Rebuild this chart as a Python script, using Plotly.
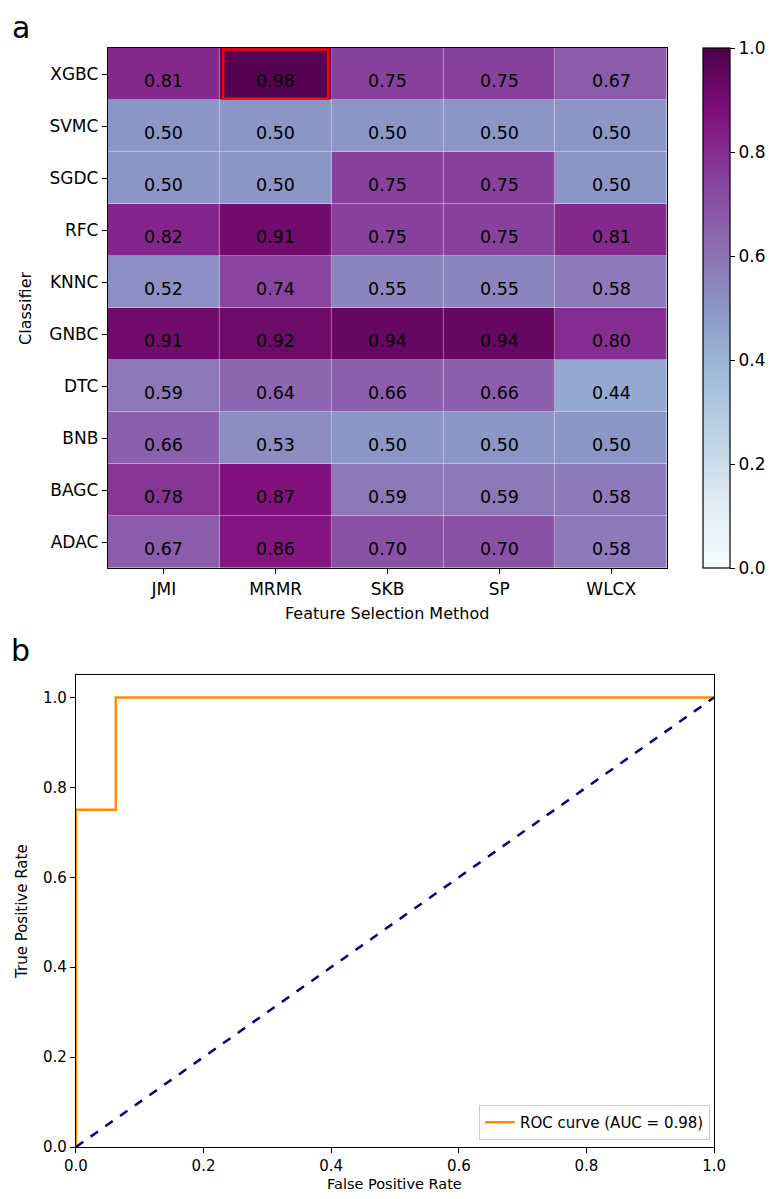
import plotly.graph_objects as go

methods = ["JMI", "MRMR", "SKB", "SP", "WLCX"]
classifiers = ["XGBC", "SVMC", "SGDC", "RFC", "KNNC", "GNBC", "DTC", "BNB", "BAGC", "ADAC"]
xgbc = [0.81, 0.98, 0.75, 0.75, 0.67]
svmc = [0.50, 0.50, 0.50, 0.50, 0.50]
sgdc = [0.50, 0.50, 0.75, 0.75, 0.50]
rfc = [0.82, 0.91, 0.75, 0.75, 0.81]
knnc = [0.52, 0.74, 0.55, 0.55, 0.58]
gnbc = [0.91, 0.92, 0.94, 0.94, 0.80]
dtc = [0.59, 0.64, 0.66, 0.66, 0.44]
bnb = [0.66, 0.53, 0.50, 0.50, 0.50]
bagc = [0.78, 0.87, 0.59, 0.59, 0.58]
adac = [0.67, 0.86, 0.70, 0.70, 0.58]
z = [xgbc, svmc, sgdc, rfc, knnc, gnbc, dtc, bnb, bagc, adac]

fpr = [0.0, 0.0, 0.0625, 0.0625, 1.0]
tpr = [0.0, 0.75, 0.75, 1.0, 1.0]
diag_x = [0.0, 1.0]
diag_y = [0.0, 1.0]
auc = 0.98
ticks01 = [0, 0.2, 0.4, 0.6, 0.8, 1.0]
ticks01_text = ["0.0", "0.2", "0.4", "0.6", "0.8", "1.0"]

# the page body has an 8px margin, so the figure is 16px smaller than the window
OFF = 8
W, H = 774 - 2 * OFF, 1199 - 2 * OFF
def fx(x):
    return (x - OFF) / W
def fy(y):
    return 1 - (y - OFF) / H
def px(x0, x1):
    return [fx(x0), fx(x1)]
def py(y0, y1):
    return [fy(y1), fy(y0)]

FONT = "DejaVu Sans"
fig = go.Figure()

fig.add_trace(go.Heatmap(
    z=z, x=methods, y=classifiers, zmin=0, zmax=1, colorscale="BuPu",
    xgap=0.4, ygap=0.4,
    xaxis="x", yaxis="y", hoverinfo="skip",
    colorbar=dict(x=fx(703), xanchor="left", y=fy(308), yanchor="middle",
                  len=520 / H, lenmode="fraction", thickness=27, xpad=0, ypad=0,
                  outlinecolor="black", outlinewidth=1.2,
                  tickvals=ticks01, ticktext=ticks01_text,
                  ticks="outside", ticklen=5, tickcolor="black",
                  tickfont=dict(size=17, family=FONT, color="black")),
))

for i, cls in enumerate(classifiers):
    for j, m in enumerate(methods):
        fig.add_annotation(x=m, y=cls, xref="x", yref="y", text=f"{z[i][j]:.2f}", showarrow=False,
                           yshift=-7, font=dict(size=17.5, color="black", family=FONT))

fig.add_trace(go.Scatter(x=fpr, y=tpr, mode="lines", line=dict(color="darkorange", width=2.5),
                         name=f"ROC curve (AUC = {auc:.2f})", xaxis="x2", yaxis="y2"))
fig.add_trace(go.Scatter(x=diag_x, y=diag_y, mode="lines", line=dict(color="navy", width=2.5, dash="dash"),
                         showlegend=False, xaxis="x2", yaxis="y2"))

axis_common = dict(showline=True, mirror=True, linecolor="black", linewidth=1.2, automargin=False,
                   ticks="outside", ticklen=5, tickcolor="black", showgrid=False, zeroline=False)

fig.update_layout(
    width=W, height=H, margin=dict(l=0, r=0, t=0, b=0),
    paper_bgcolor="white", plot_bgcolor="white",
    font=dict(family=FONT, color="black"),
    xaxis=dict(domain=px(108, 668), anchor="y", tickfont=dict(size=17), **axis_common),
    yaxis=dict(domain=py(48, 568), anchor="x", autorange="reversed", tickfont=dict(size=17), **axis_common),
    xaxis2=dict(domain=px(76, 715), anchor="y2", range=[0, 1], tickvals=ticks01,
                ticktext=ticks01_text, tickfont=dict(size=15), **axis_common),
    yaxis2=dict(domain=py(675, 1147), anchor="x2", range=[0, 1.05], tickvals=ticks01,
                ticktext=ticks01_text, tickfont=dict(size=15), **axis_common),
    legend=dict(x=fx(710), y=fy(1140), xref="paper", yref="paper", xanchor="right", yanchor="bottom",
                bgcolor="white", bordercolor="#cccccc", borderwidth=1, font=dict(size=15),
                itemwidth=30),
    showlegend=True,
)

fig.add_shape(type="rect", xref="x", yref="y", x0=0.53, x1=1.47, y0=-0.47, y1=0.47,
              line=dict(color="red", width=2.5), fillcolor="rgba(0,0,0,0)")

def label(text, x, y, size, angle=0):
    fig.add_annotation(text=text, x=fx(x), y=fy(y), xref="paper", yref="paper", showarrow=False,
                       xanchor="center", yanchor="middle", textangle=angle,
                       font=dict(size=size, family=FONT, color="black"))

label("Feature Selection Method", 388, 613, 16)
label("Classifier", 25, 308, 16, -90)
label("False Positive Rate", 395, 1184, 14.5)
label("True Positive Rate", 22, 911, 15, -90)
label("a", 21, 27, 30)
label("b", 21, 650, 30)

fig.write_html("out.html")
